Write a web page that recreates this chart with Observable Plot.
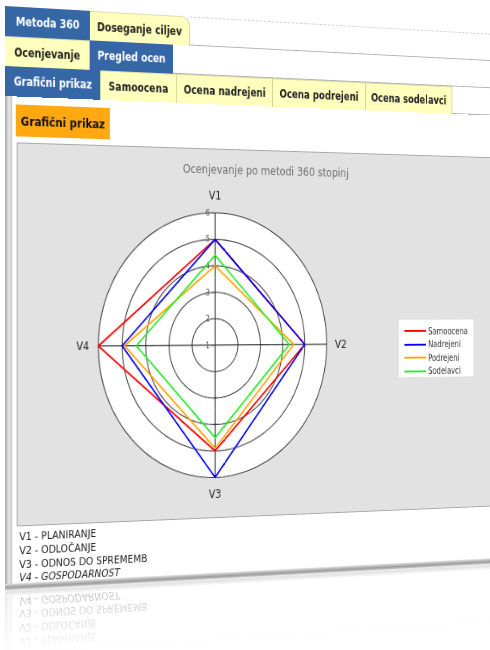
<!DOCTYPE html>
<html><head><meta charset="utf-8">
<script src="https://cdn.jsdelivr.net/npm/d3@7"></script>
<script src="https://cdn.jsdelivr.net/npm/@observablehq/plot@0.6"></script>
<style>
html,body{margin:0;padding:0;background:#fff;width:490px;height:650px;overflow:hidden;font-family:"DejaVu Sans Condensed","DejaVu Sans",sans-serif;}
#wrap{position:absolute;left:5px;top:0;width:660px;height:600px;transform-origin:0 306px;transform:perspective(2560px) rotateY(26deg);}
.row{position:absolute;left:0;height:30px;width:660px;display:flex;}
.tab{box-sizing:border-box;height:30px;display:flex;align-items:center;justify-content:center;font-size:12px;font-weight:bold;color:#222;flex:none;}
.b{background:#3566a6;color:#fff;}
.y{background:#ffffbe;border-right:1px solid #cdcd96;border-top:1px solid #dcdca8;}
.rest{flex:1;box-sizing:border-box;height:30px;}
#panel{position:absolute;left:0;top:96px;width:660px;height:494px;background:#fff;
 -webkit-box-reflect:below 0px linear-gradient(to bottom, transparent 86%, rgba(0,0,0,0.3));}
#lbar{position:absolute;left:0;top:0;width:8px;height:100%;background:linear-gradient(to right,#a8a8a8,#e8e8e8 55%,#c4c4c4);}
#bbar{position:absolute;left:0;bottom:0;width:100%;height:6px;background:linear-gradient(to bottom,#e4e4e4,#9c9c9c 60%,#c8c8c8);}
#badge{position:absolute;left:12px;top:8px;width:107px;height:32px;background:#ffa812;display:flex;align-items:center;justify-content:center;font-size:13px;font-weight:bold;color:#111;}
#area{position:absolute;left:13px;top:46px;width:610px;height:385px;background:#e2e2e2;border:1px solid #a8a8a8;box-sizing:border-box;}
#chart{position:absolute;left:-1px;top:-1px;}
#title{position:absolute;left:0;top:13px;width:586px;text-align:center;font-size:13px;color:#6e6e6e;}
#legend{position:absolute;left:459px;top:177px;width:100px;height:64px;background:#fff;border:1px solid #e6e6e6;box-sizing:border-box;padding-top:5px;}
.li{display:flex;align-items:center;height:14.5px;font-size:10px;color:#333;}
.li span.sw{display:inline-block;width:28px;height:2px;margin-left:7px;margin-right:3px;}
#foot{position:absolute;left:16px;top:435px;font-family:"DejaVu Sans",sans-serif;font-size:10.6px;line-height:13.8px;color:#222;}
#foot div{width:fit-content;height:13.8px;}
</style>
</head><body>
<div id="wrap">
  <div class="row" style="top:6px">
    <div class="tab b" style="width:96px">Metoda 360</div>
    <div class="tab y" style="width:117px;border-top-right-radius:10px">Doseganje ciljev</div>
    <div class="rest" style="border-top:1px dashed #cfcfcf;border-bottom:1px solid #b4b4b4"></div>
  </div>
  <div class="row" style="top:36px">
    <div class="tab y" style="width:96px">Ocenjevanje</div>
    <div class="tab b" style="width:97px">Pregled ocen</div>
    <div class="rest" style="border-bottom:1px solid #b4b4b4"></div>
  </div>
  <div class="row" style="top:66px">
    <div class="tab b" style="width:108px">Grafični prikaz</div>
    <div class="tab y" style="width:90px">Samoocena</div>
    <div class="tab y" style="width:116px">Ocena nadrejeni</div>
    <div class="tab y" style="width:117px">Ocena podrejeni</div>
    <div class="tab y" style="width:113px">Ocena sodelavci</div>
    <div class="rest" style="border-bottom:1px solid #b4b4b4"></div>
  </div>
  <div id="panel">
    <div id="lbar"></div>
    <div id="badge">Grafični prikaz</div>
    <div id="area">
      <div id="chart"></div>
      <div id="title"></div>
      <div id="legend"></div>
    </div>
    <div id="bbar"></div>
    <div id="foot"></div>
  </div>
</div>
<script>
const chartTitle = "Ocenjevanje po metodi 360 stopinj";
const axes = ["V1", "V2", "V3", "V4"];
const axisNames = ["PLANIRANJE", "ODLOČANJE", "ODNOS DO SPREMEMB", "GOSPODARNOST"];
const series = ["Samoocena", "Nadrejeni", "Podrejeni", "Sodelavci"];
const colors = ["#ff0000", "#0000ff", "#ffa500", "#22ee22"];
const samoocena = [5, 5, 5, 6];
const nadrejeni = [5, 5, 6, 5];
const podrejeni = [4, 4.5, 4.9, 4.9];
const sodelavci = [4.4, 4.3, 4.5, 4.4];
const ringValues = [2, 3, 4, 5, 6];
const tickValues = [1, 2, 3, 4, 5, 6];

const values = [samoocena, nadrejeni, podrejeni, sodelavci];
const points = series.flatMap((s, j) => axes.map((a, i) => ({series: s, axis: a, value: values[j][i]})));
const lon = d3.scaleOrdinal(axes, [180, 90, 0, -90]);
const lat = v => 90 - (v - 1) * 10;
const ring = v => d3.geoCircle().center([0, 90]).radius((v - 1) * 10)();

const chart = Plot.plot({
  width: 610, height: 385,
  marginLeft: 92.4, marginRight: 241.6, marginTop: 66.6, marginBottom: 42.4,
  projection: {type: "azimuthal-equidistant", rotate: [0, -90], domain: ring(6), inset: 0, clip: false},
  style: {background: "transparent", overflow: "visible", fontFamily: "'DejaVu Sans Condensed','DejaVu Sans',sans-serif"},
  color: {domain: series, range: colors},
  marks: [
    Plot.geo([6], {geometry: ring, fill: "white", stroke: "none"}),
    Plot.geo(ringValues, {geometry: ring, fill: "none", stroke: "#444", strokeWidth: 1.1}),
    Plot.link(axes, {x1: a => lon(a), y1: () => 90, x2: a => lon(a), y2: () => lat(6), stroke: "#111", strokeWidth: 1}),
    Plot.text(tickValues, {x: () => 180, y: v => lat(v), text: v => v + " -", dx: -1, textAnchor: "end", fontSize: 9, fill: "#555"}),
    Plot.line(points, {x: d => lon(d.axis), y: d => lat(d.value), z: "series", stroke: "series", strokeWidth: 1.7, curve: "linear-closed"}),
    Plot.text(axes, {x: a => lon(a), y: () => lat(6) - 6.5, text: d => d, fontSize: 12.5, fill: "#222"})
  ]
});
document.getElementById("chart").appendChild(chart);
document.getElementById("title").textContent = chartTitle;
const leg = document.getElementById("legend");
series.forEach((s, i) => {
  const d = document.createElement("div");
  d.className = "li";
  d.innerHTML = `<span class="sw" style="background:${colors[i]}"></span><span>${s}</span>`;
  leg.appendChild(d);
});
const foot = document.getElementById("foot");
axes.forEach((a, i) => {
  const d = document.createElement("div");
  d.textContent = `${a} - ${axisNames[i]}`;
  if (i === 3) d.style.fontStyle = "italic";
  foot.appendChild(d);
});
</script>
</body></html>
